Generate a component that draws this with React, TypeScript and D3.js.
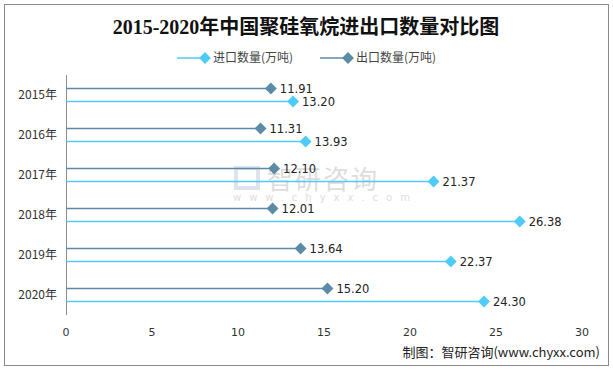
import { useEffect, useRef } from 'react';
import * as d3 from 'd3';

const years = ['2015年', '2016年', '2017年', '2018年', '2019年', '2020年'];
const importValues = [13.2, 13.93, 21.37, 26.38, 22.37, 24.3];
const exportValues = [11.91, 11.31, 12.1, 12.01, 13.64, 15.2];
const xTicks = [0, 5, 10, 15, 20, 25, 30];

const IMPORT_COLOR = '#4FCBF7';
const EXPORT_COLOR = '#5B8BA6';

const App = () => {
  const svgRef = useRef<SVGSVGElement>(null);

  useEffect(() => {
    if (!svgRef.current) return;
    d3.select(svgRef.current).selectAll('*').remove();

    const width = 613;
    const height = 370;
    const svg = d3.select(svgRef.current).attr('width', width).attr('height', height);

    // frame
    svg.append('rect')
      .attr('x', 4.5).attr('y', 4.5)
      .attr('width', 604).attr('height', 361)
      .attr('fill', '#fff').attr('stroke', '#8a8a8a');

    // title
    svg.append('text')
      .attr('x', 306).attr('y', 34)
      .attr('text-anchor', 'middle')
      .attr('font-family', '"Liberation Serif", "Noto Sans CJK SC", serif')
      .attr('font-weight', 'bold')
      .attr('font-size', 20)
      .attr('fill', '#111')
      .text('2015-2020年中国聚硅氧烷进出口数量对比图');

    // legend
    const legend = [
      { label: '进口数量(万吨)', color: IMPORT_COLOR, x: 177 },
      { label: '出口数量(万吨)', color: EXPORT_COLOR, x: 320 },
    ];
    const lg = svg.append('g').attr('font-family', '"Noto Sans CJK SC", sans-serif').attr('font-size', 12);
    legend.forEach(l => {
      lg.append('line').attr('x1', l.x).attr('x2', l.x + 28).attr('y1', 58).attr('y2', 58)
        .attr('stroke', l.color).attr('stroke-width', 1.5);
      lg.append('path').attr('d', d3.symbol(d3.symbolDiamond2, 90)())
        .attr('transform', `translate(${l.x + 28},58)`).attr('fill', l.color);
      lg.append('text').attr('x', l.x + 36).attr('y', 62).attr('fill', '#444').text(l.label);
    });

    // watermark
    const wm = svg.append('g').attr('opacity', 0.35);
    wm.append('rect').attr('x', 236).attr('y', 168).attr('width', 22).attr('height', 20)
      .attr('fill', 'none').attr('stroke', '#9fb3c8').attr('stroke-width', 4);
    wm.append('text').attr('x', 267).attr('y', 189)
      .attr('font-family', '"Noto Sans CJK SC", sans-serif').attr('font-size', 26)
      .attr('fill', '#a0a0a0').attr('letter-spacing', 2).text('智研咨询');
    wm.append('text').attr('x', 233).attr('y', 201)
      .attr('font-family', '"DejaVu Sans", sans-serif').attr('font-size', 10)
      .attr('fill', '#a0a0a0').attr('letter-spacing', 8).text('www.chyxx.com');

    // scales
    const x = d3.scaleLinear().domain([0, 30]).range([66, 582]);
    const y = d3.scaleBand().domain(years).range([75, 315]);
    const sub = d3.scaleBand().domain(['export', 'import']).range([0, y.bandwidth()]).paddingOuter(0.55);

    const g = svg.append('g');

    // y axis line
    g.append('line').attr('x1', 66.5).attr('x2', 66.5).attr('y1', 75).attr('y2', 315)
      .attr('stroke', '#8c8c8c').attr('stroke-width', 1);

    // year labels
    g.selectAll('.ylab').data(years).enter().append('text')
      .attr('x', 57)
      .attr('y', d => (y(d) || 0) + y.bandwidth() / 2 + 4)
      .attr('text-anchor', 'end')
      .attr('font-family', '"Noto Sans CJK SC", sans-serif')
      .attr('font-size', 12)
      .attr('fill', '#333')
      .text(d => d);

    // x tick labels
    g.selectAll('.xlab').data(xTicks).enter().append('text')
      .attr('x', d => x(d))
      .attr('y', 336)
      .attr('text-anchor', 'middle')
      .attr('font-family', '"DejaVu Sans", sans-serif')
      .attr('font-size', 11)
      .attr('fill', '#333')
      .text(d => d);

    const series = [
      { key: 'export', values: exportValues, color: EXPORT_COLOR },
      { key: 'import', values: importValues, color: IMPORT_COLOR },
    ];

    series.forEach(s => {
      const data = years.map((yr, i) => ({ yr, v: s.values[i] }));
      const cy = (d: { yr: string }) => (y(d.yr) || 0) + (sub(s.key) || 0) + sub.bandwidth() / 2;
      const sg = g.append('g');
      sg.selectAll('line').data(data).enter().append('line')
        .attr('x1', x(0)).attr('x2', d => x(d.v))
        .attr('y1', d => cy(d)).attr('y2', d => cy(d))
        .attr('stroke', s.color).attr('stroke-width', 1.5);
      sg.selectAll('path').data(data).enter().append('path')
        .attr('d', d3.symbol(d3.symbolDiamond2, 90)())
        .attr('transform', d => `translate(${x(d.v)},${cy(d)})`)
        .attr('fill', s.color);
      sg.selectAll('text').data(data).enter().append('text')
        .attr('x', d => x(d.v) + 9)
        .attr('y', d => cy(d) + 4.5)
        .attr('font-family', '"DejaVu Sans", sans-serif')
        .attr('font-size', 11.5)
        .attr('fill', '#222')
        .text(d => d.v.toFixed(2));
    });

    // source
    svg.append('text')
      .attr('x', 600).attr('y', 357)
      .attr('text-anchor', 'end')
      .attr('font-family', '"Noto Sans CJK SC", sans-serif')
      .attr('font-size', 13)
      .attr('fill', '#222')
      .text('制图：智研咨询(www.chyxx.com)');
  }, []);

  return <svg ref={svgRef} style={{ display: 'block', position: 'absolute', left: 0, top: 0 }} />;
};

export default App;
